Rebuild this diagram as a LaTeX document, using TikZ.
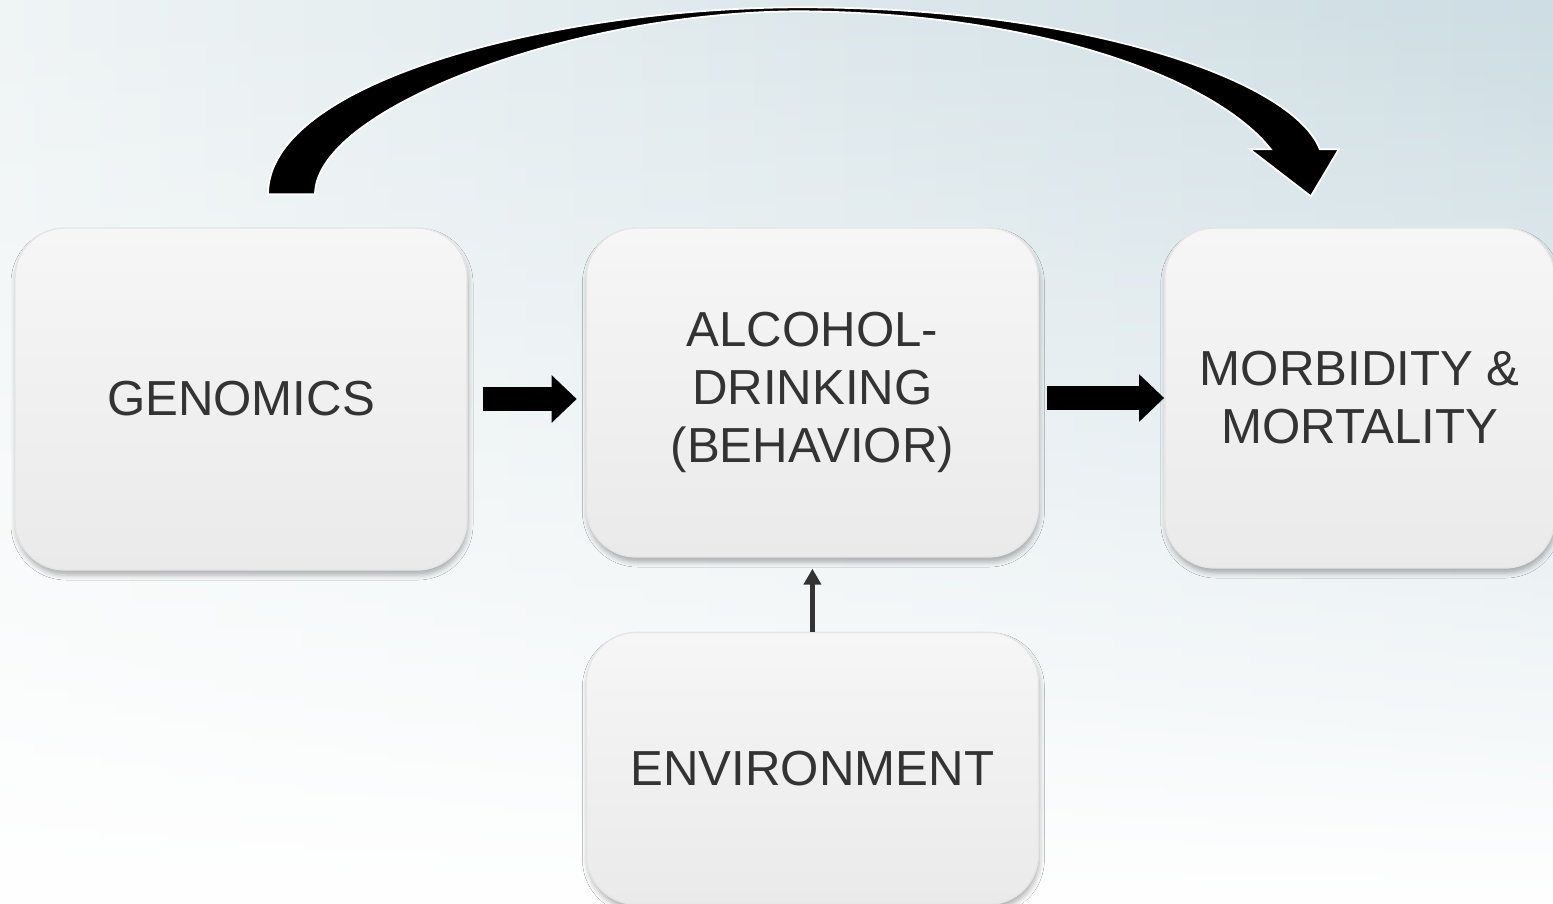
\documentclass[tikz,border=0pt]{standalone}
\usepackage{fontspec}
\setmainfont{Liberation Sans}
\usepackage{xcolor}
\usetikzlibrary{positioning, arrows.meta, shadows.blur, fadings}

\definecolor{boxtext}{HTML}{333333}
\definecolor{boxtop}{HTML}{F6F6F6}
\definecolor{boxbottom}{HTML}{EAEAEA}
\definecolor{bgleft}{HTML}{EFF4F5}
\definecolor{bgright}{HTML}{CDDDE3}
\tikzfading[name=fadeup, top color=transparent!100, middle color=transparent!65, bottom color=transparent!0]

\begin{document}
\begin{tikzpicture}[
    box/.style={draw=black!10, line width=0.4pt, rounded corners=0.5cm, top color=boxtop, bottom color=boxbottom,
        minimum width=4.52cm, align=center, text=boxtext, font=\fontsize{14}{16.5}\selectfont,
        blur shadow={shadow xshift=0.01cm, shadow yshift=-0.05cm, shadow blur radius=0.05cm, shadow opacity=30}},
    fatarrow/.style={line width=0.24cm, -{Triangle[length=0.25cm, width=0.46cm]}},
    thinarrow/.style={draw=boxtext, line width=0.055cm, -{Triangle[length=0.16cm, width=0.17cm]}}
]
    % background
    \useasboundingbox (0,0) rectangle (15.53,-9.04);
    \fill[left color=bgleft, right color=bgright] (0,0) rectangle (15.53,-9.04);
    \fill[white, path fading=fadeup] (0,0) rectangle (15.53,-9.04);

    % boxes
    \node[box, minimum height=3.42cm] (genomics) at (2.41,-3.99) {GENOMICS};
    \node[box, minimum height=3.29cm, right=1.18cm of genomics.north east, anchor=north west] (alcohol) {ALCOHOL-\\DRINKING\\(BEHAVIOR)};
    \node[box, minimum width=3.9cm, minimum height=3.4cm, right=1.25cm of alcohol.north east, anchor=north west] (morbidity) {MORBIDITY \&\\MORTALITY};
    \node[box, minimum height=2.72cm, below=0.74cm of alcohol] (environment) {ENVIRONMENT};

    % arrows
    \draw[fatarrow, shorten <=0.15cm, shorten >=0.09cm] (genomics.east) -- (genomics.east -| alcohol.west);
    \draw[fatarrow, shorten <=0.08cm] (alcohol.east |- morbidity.west) -- (morbidity.west);
    \draw[thinarrow, shorten >=0.11cm] (environment.north) -- (alcohol.south);

    % curved arrow over the top
    \coordinate (arcfrom) at ([xshift=0.27cm, yshift=0.33cm]genomics.north);
    \coordinate (arctop) at ([xshift=-0.11cm, yshift=2.20cm]alcohol.north);
    \coordinate (arcto) at ([xshift=-0.49cm, yshift=0.31cm]morbidity.north);
    \fill[black, draw=white, line width=0.5pt]
        (arcfrom) .. controls +(0,1.15) and +(-2.4,0) .. (arctop)
        .. controls +(2.8,0) and +(-0.27,0.70) .. ([xshift=0.09cm, yshift=0.47cm]arcto)
        -- ++(0.19,0) -- (arcto) -- ++(-0.61,0.47) -- ++(0.21,0)
        .. controls +(-0.55,0.70) and +(2.4,-0.02) .. ([yshift=-0.04cm]arctop)
        .. controls +(-2.3,0) and +(0,0.85) .. ([xshift=0.47cm]arcfrom) -- cycle;
\end{tikzpicture}
\end{document}
